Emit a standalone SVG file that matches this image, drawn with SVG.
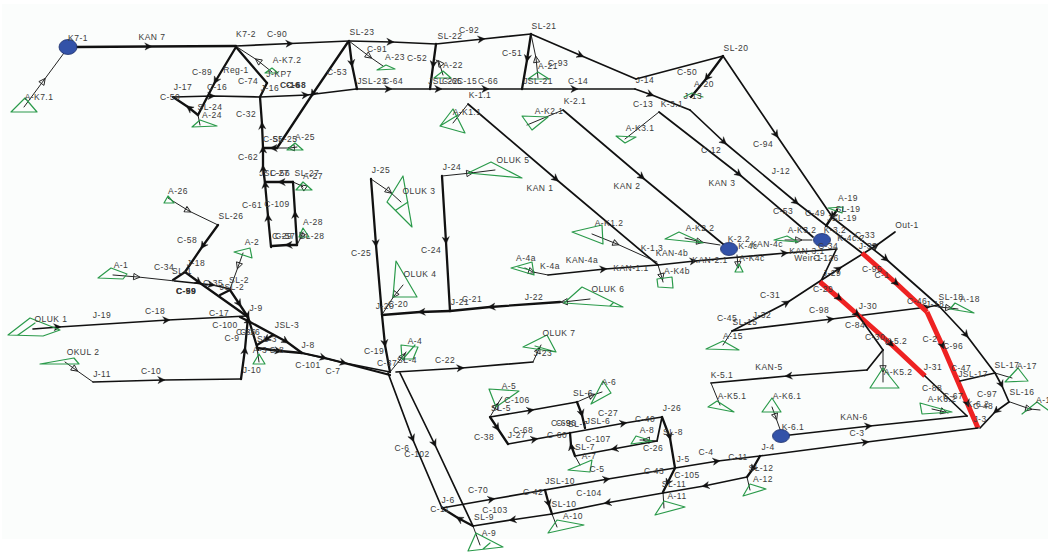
<svg xmlns="http://www.w3.org/2000/svg" width="1048" height="553" viewBox="0 0 1048 553">
<style>
text{font-family:"Liberation Sans",Arial,sans-serif;font-size:8.5px;letter-spacing:.45px;fill:#3a3a3a;text-anchor:middle;dominant-baseline:middle}
.b{font-weight:bold}
path{fill:none;stroke-linecap:round;stroke-linejoin:round}
.k{stroke:#111;stroke-width:2.300;marker-mid:url(#a)}
.n{stroke:#111;stroke-width:1.700;marker-mid:url(#a)}
.t{stroke:#222;stroke-width:1;marker-mid:url(#h)}
.r{stroke:#ee2222;stroke-width:5;stroke-linecap:butt;marker-mid:url(#a)}
.g{fill:none;stroke:#2a9a4a;stroke-width:1.200}
.o{fill:#3352a8;stroke:#1c2f6a;stroke-width:.8}
</style>
<defs>
<marker id="a" markerUnits="userSpaceOnUse" markerWidth="12" markerHeight="10" refX="6" refY="5" orient="auto" overflow="visible"><path d="M1 1.500L8 5L1 8.500L3 5Z" style="fill:#111;stroke:#111;stroke-width:.4"/></marker>
<marker id="h" markerUnits="userSpaceOnUse" markerWidth="12" markerHeight="10" refX="6" refY="5" orient="auto" overflow="visible"><path d="M2 2L8 5L2 8Z" style="fill:none;stroke:#222;stroke-width:.9"/></marker>
</defs>
<rect width="1048" height="553" fill="#fff"/>
<rect x="2" y="4" width="1046" height="535" fill="#fbfdfc"/>
<g id="connectors">
<path class="t" d="M24 107L44 80L64 53"/>
<path class="k" d="M76 47L150 46.500L236 46"/>
<path class="n" d="M236 46L291 43.500L349 41"/>
<path class="n" d="M349 41L392 42L436 44"/>
<path class="n" d="M436 44L483 39L531 34"/>
<path class="n" d="M531 34L582 56L636 79"/>
<path class="n" d="M636 79L723 56"/>
<path class="k" d="M723 56L706 79L691 97"/>
<path class="n" d="M723 56L777 136L833 218"/>
<path class="n" d="M833 218L887 260L938 305"/>
<path class="n" d="M938 305L967 336L995 373"/>
<path class="n" d="M995 373L1002 386L1009 402"/>
<path class="n" d="M1009 402L995 412L980 428"/>
<path class="k" d="M349 41L352 65L357 89"/>
<path class="k" d="M436 44L433 66L430 89"/>
<path class="k" d="M531 34L527 60L522 89"/>
<path class="t" d="M349 41L370 57L383 66"/>
<path class="t" d="M443 75L439 62L436 60"/>
<path class="t" d="M538 78L536 58L531 34"/>
<path class="n" d="M260 97L307 95L356 89"/>
<path class="n" d="M356 89L390 89L440 89L487 89L576 89L635 89"/>
<path class="n" d="M635 89L652 95L690 110"/>
<path class="n" d="M690 110L725 143L797 203L862 253"/>
<path class="n" d="M173 97L213 96L260 97"/>
<path class="n" d="M659 112L740 175L813 237"/>
<path class="t" d="M659 112L625 139"/>
<path class="k" d="M236 47L215 82L198 115"/>
<path class="k" d="M198 115L188 107L173 97"/>
<path class="t" d="M198 115L200 125"/>
<path class="k" d="M236 47L267 83"/>
<path class="k" d="M267 83L260 97"/>
<path class="t" d="M272 72L257 60L237 47"/>
<path class="k" d="M348 42L312 95L277 148"/>
<path class="k" d="M277 148L272 148L263 148"/>
<path class="t" d="M297 147L290 148L277 148"/>
<path class="k" d="M271 247L268 216L265 183L263 167L263 148L262 124L260 97"/>
<path class="k" d="M293 182L280 182L265 182"/>
<path class="t" d="M303 187L302 186L293 182"/>
<path class="k" d="M297 245L295 213L293 182"/>
<path class="k" d="M297 245L287 245L272 246"/>
<path class="t" d="M303 232L301 237L297 245"/>
<path class="t" d="M168 198L189 211L218 225"/>
<path class="k" d="M218 225L202 247L185 272"/>
<path class="k" d="M185 272L173 280"/>
<path class="t" d="M113 275L138 277L175 281"/>
<path class="n" d="M175 281L213 285L230 289"/>
<path class="k" d="M185 272L200 283L248 317"/>
<path class="k" d="M230 290L220 295"/>
<path class="k" d="M230 290L240 305L248 317L258 350"/>
<path class="k" d="M240 317L250 322L287 342L302 353"/>
<path class="t" d="M243 253L238 267L230 289"/>
<path class="n" d="M33 329L59 327L168 320L247 316"/>
<path class="t" d="M65 362L76 370L93 382"/>
<path class="n" d="M93 382L163 380L241 379"/>
<path class="k" d="M241 379L245 349L248 317"/>
<path class="k" d="M273 335L265 340L257 345"/>
<path class="t" d="M257 348L259 362"/>
<path class="k" d="M257 348L280 351L302 353"/>
<path class="k" d="M302 353L325 358L390 375"/>
<path class="n" d="M302 353L345 363L390 372"/>
<path class="k" d="M371 179L376 245L382 315"/>
<path class="k" d="M382 315L385 345L390 372"/>
<path class="t" d="M371 179L390 192L401 202"/>
<path class="t" d="M403 285L394 296L383 313"/>
<path class="k" d="M560 302L490 307L450 311"/>
<path class="k" d="M450 311L420 312L382 315"/>
<path class="t" d="M590 299L563 302L560 302"/>
<path class="k" d="M442 176L446 242L450 311"/>
<path class="t" d="M442 176L471 173L495 170"/>
<path class="n" d="M396 372L462 368L533 362"/>
<path class="t" d="M533 362L539 349L541 345"/>
<path class="t" d="M390 372L404 355L406 352"/>
<path class="n" d="M468 104L557 180L658 265"/>
<path class="t" d="M468 104L453 123"/>
<path class="n" d="M563 110L643 178L729 249"/>
<path class="t" d="M563 110L527 125"/>
<path class="t" d="M592 234L617 244L657 262"/>
<path class="n" d="M658 265L695 261L786 253L837 249"/>
<path class="n" d="M548 275L605 269L658 265"/>
<path class="t" d="M525 268L533 272L548 275"/>
<path class="t" d="M658 265L662 278L663 282"/>
<path class="t" d="M685 238L701 242L720 245"/>
<path class="t" d="M737 255L738 266L738 268"/>
<path class="t" d="M785 240L800 240L812 240"/>
<path class="k" d="M837 210L832 217L826 226"/>
<path class="n" d="M836 250L825 273"/>
<path class="n" d="M825 273L820 283"/>
<path class="n" d="M732 331L788 302L840 268L877 245L895 232"/>
<path class="t" d="M732 331L723 345"/>
<path class="n" d="M732 331L832 319L928 307L938 305"/>
<path class="t" d="M938 307L950 308L958 309"/>
<path class="r" d="M862 253L897 284L927 312"/>
<path class="r" d="M927 312L943 347L968 405L978 428"/>
<path class="r" d="M820 282L840 299L858 315L892 345L925 376"/>
<path class="n" d="M925 376L967 416"/>
<path class="n" d="M858 315L883 350"/>
<path class="n" d="M883 350L867 370"/>
<path class="n" d="M867 370L787 376L711 383"/>
<path class="t" d="M711 383L720 405"/>
<path class="t" d="M883 350L883 370L883 382"/>
<path class="n" d="M960 381L995 373"/>
<path class="t" d="M995 373L1012 378"/>
<path class="t" d="M1010 402L1030 409L1040 410"/>
<path class="n" d="M781 436L870 426L967 416"/>
<path class="t" d="M932 409L945 412L948 413"/>
<path class="t" d="M772 407L776 418L781 432"/>
<path class="n" d="M760 456L867 442L978 428"/>
<path class="n" d="M675 468L718 461L760 456"/>
<path class="k" d="M760 456L752 470L747 477"/>
<path class="n" d="M747 477L704 486L663 493"/>
<path class="t" d="M747 477L750 490"/>
<path class="k" d="M675 468L667 484L663 492"/>
<path class="t" d="M663 492L664 508"/>
<path class="n" d="M663 493L606 503L552 514"/>
<path class="k" d="M545 490L549 505L552 514"/>
<path class="t" d="M552 514L557 527"/>
<path class="n" d="M442 508L493 499L608 479L675 468"/>
<path class="n" d="M552 514L511 520L473 526"/>
<path class="k" d="M473 526L458 518L442 508"/>
<path class="t" d="M473 526L480 545"/>
<path class="n" d="M388 373L413 440L442 508"/>
<path class="n" d="M400 373L435 445L473 526"/>
<path class="n" d="M490 417L532 410L577 402"/>
<path class="t" d="M490 417L497 405L502 397"/>
<path class="t" d="M577 402L593 395L602 392"/>
<path class="k" d="M490 417L498 429L508 444"/>
<path class="n" d="M508 444L536 439L625 423L662 417"/>
<path class="k" d="M577 402L582 415L585 428"/>
<path class="k" d="M575 456L571 445L570 433"/>
<path class="n" d="M662 417L657 441"/>
<path class="n" d="M657 441L613 449L575 456"/>
<path class="t" d="M575 456L580 465"/>
<path class="t" d="M657 441L645 440L640 440"/>
<path class="k" d="M662 417L670 438L675 468"/>
</g>
<g id="nodes">
<g id="K7-1"><ellipse class="o" cx="68" cy="47" rx="9" ry="7.500"/><text x="78" y="39">K7-1</text></g>
<g id="K-2.2"><ellipse class="o" cx="729" cy="249" rx="8.500" ry="6.500"/><text x="739" y="240">K-2.2</text></g>
<g id="K-3.2"><ellipse class="o" cx="822" cy="240" rx="8.500" ry="6.500"/><text x="835" y="231">K-3.2</text></g>
<g id="K-6.1"><ellipse class="o" cx="781" cy="436" rx="8.500" ry="6.500"/><text x="793" y="428">K-6.1</text></g>
<g id="A-K7.1"><path class="g" d="M11 112L25 98L37 112Z"/><text x="39" y="98">A-K7.1</text></g>
<g id="A-K7.2"><path class="g" d="M265 73L272 68L278 73Z"/><text x="287" y="61">A-K7.2</text></g>
<g id="A-24"><path class="g" d="M192 127L200 120L217 126Z"/><text x="212" y="116">A-24</text></g>
<g id="A-25"><path class="g" d="M287 150L295 143L303 150Z"/><text x="305" y="138">A-25</text></g>
<g id="A-27"><path class="g" d="M296 190L303 182L312 190Z"/><text x="313" y="177">A-27</text></g>
<g id="A-28"><path class="g" d="M299 237L303 228L309 237Z"/><text x="313" y="223">A-28</text></g>
<g id="A-26"><path class="g" d="M164 203L168 196L174 203Z"/><text x="178" y="192">A-26</text></g>
<g id="A-23"><path class="g" d="M377 70L386 65L395 69Z"/><text x="395" y="58">A-23</text></g>
<g id="A-22"><path class="g" d="M434 78L443 71L451 78Z"/><text x="453" y="66">A-22</text></g>
<g id="A-21"><path class="g" d="M528 79L538 72L549 79Z"/><text x="548" y="67">A-21</text></g>
<g id="A-20"><path class="g" d="M684 97L692 93L703 97"/><text x="704" y="85">A-20</text></g>
<g id="A-19"><path class="g" d="M828 208L843 207L842 213Z"/><text x="848" y="199">A-19</text></g>
<g id="A-18"><path class="g" d="M950 309L955 303L974 313Z"/><text x="970" y="300">A-18</text></g>
<g id="A-17"><path class="g" d="M1005 382L1018 368L1028 381Z"/><text x="1027" y="367">A-17</text></g>
<g id="A-16"><path class="g" d="M1022 414L1037 402L1048 410"/><text x="1046" y="401">A-16</text></g>
<g id="A-15"><path class="g" d="M706 349L723 341L739 350Z"/><text x="733" y="337">A-15</text></g>
<g id="A-K1.1"><path class="g" d="M453 109L440 126L465 133ZM440 126L458 115"/><text x="467" y="113">A-K1.1</text></g>
<g id="A-K2.1"><path class="g" d="M522 116L532 130L548 117Z"/><text x="549" y="112">A-K2.1</text></g>
<g id="A-K3.1"><path class="g" d="M616 136L625 143L636 137Z"/><text x="640" y="129">A-K3.1</text></g>
<g id="OLUK5"><path class="g" d="M468 173L491 162L522 178Z"/><text x="513" y="161">OLUK 5</text></g>
<g id="OLUK3"><path class="g" d="M387 202L403 176L412 227ZM396 210L408 202"/><text x="419" y="192">OLUK 3</text></g>
<g id="OLUK4"><path class="g" d="M396 261L417 297L393 297Z"/><text x="420" y="275">OLUK 4</text></g>
<g id="OLUK6"><path class="g" d="M564 303L582 287L623 307ZM610 306L613 303"/><text x="608" y="290">OLUK 6</text></g>
<g id="OLUK7"><path class="g" d="M523 347L547 335L556 352ZM556 352L535 346"/><text x="559" y="334">OLUK 7</text></g>
<g id="A-4"><path class="g" d="M401 345L418 347L413 359L402 359ZM403 359L415 345"/><text x="415" y="342">A-4</text></g>
<g id="A-K1.2"><path class="g" d="M572 232L602 225L603 244Z"/><text x="609" y="224">A-K1.2</text></g>
<g id="A-4a"><path class="g" d="M511 268L532 262L534 275ZM518 267L530 270"/><text x="526" y="259">A-4a</text></g>
<g id="A-K4b"><path class="g" d="M657 279L672 277L673 288L658 287Z"/><text x="677" y="272">A-K4b</text></g>
<g id="A-K2.2"><path class="g" d="M665 239L679 232L703 243Z"/><text x="700" y="229">A-K2.2</text></g>
<g id="A-K4c"><path class="g" d="M735 272L739 264L743 272Z"/><text x="752" y="259">A-K4c</text></g>
<g id="A-K3.2"><path class="g" d="M774 240L787 236L798 242Z"/><text x="802" y="231">A-K3.2</text></g>
<g id="A-K5.1"><path class="g" d="M708 407L717 401L734 412Z"/><text x="732" y="397">A-K5.1</text></g>
<g id="A-K5.2"><path class="g" d="M870 388L883 368L899 388Z"/><text x="898" y="373">A-K5.2</text></g>
<g id="A-K6.1"><path class="g" d="M762 412L772 398L781 412Z"/><text x="787" y="397">A-K6.1</text></g>
<g id="A-K6.2"><path class="g" d="M920 403L922 414L952 412Z"/><text x="942" y="400">A-K6.2</text></g>
<g id="A-12"><path class="g" d="M743 496L750 484L766 489Z"/><text x="763" y="480">A-12</text></g>
<g id="A-11"><path class="g" d="M655 515L664 501L685 507Z"/><text x="677" y="497">A-11</text></g>
<g id="A-10"><path class="g" d="M548 533L557 520L584 525Z"/><text x="573" y="517">A-10</text></g>
<g id="A-9"><path class="g" d="M468 551L476 533L503 547ZM483 549L490 543"/><text x="489" y="534">A-9</text></g>
<g id="A-5"><path class="g" d="M489 389L519 391L496 407Z"/><text x="509" y="387">A-5</text></g>
<g id="A-6"><path class="g" d="M591 404L603 381L611 393Z"/><text x="609" y="383">A-6</text></g>
<g id="A-7"><path class="g" d="M568 470L592 460L590 472Z"/><text x="589" y="457">A-7</text></g>
<g id="A-8"><path class="g" d="M631 444L636 436L652 441Z"/><text x="647" y="431">A-8</text></g>
<g id="A-1"><path class="g" d="M98 278L111 268L127 274L123 279Z"/><text x="121" y="266">A-1</text></g>
<g id="A-2"><path class="g" d="M234 252L250 248L252 258Z"/><text x="252" y="243">A-2</text></g>
<g id="A-3"><path class="g" d="M253 364L259 354L265 364Z"/><text x="260" y="351">A-3</text></g>
<g id="OLUK1"><path class="g" d="M8 335L30 318L60 330L43 336ZM18 335L35 323"/><text x="51" y="320">OLUK 1</text></g>
<g id="OKUL2"><path class="g" d="M40 364L74 358L79 364Z"/><text x="83" y="353">OKUL 2</text></g>
</g>
<g id="labels">
<text x="152" y="38">KAN 7</text><text x="246" y="35">K7-2</text><text x="277" y="35">C-90</text><text x="362" y="33">SL-23</text><text x="450" y="37">SL-22</text><text x="469" y="31">C-92</text><text x="544" y="27">SL-21</text><text x="558" y="64">C-93</text><text x="645" y="81">J-14</text><text x="736" y="49">SL-20</text><text x="687" y="73">C-50</text><text x="693" y="97">J-13</text>
<text x="202" y="73">C-89</text><text x="236" y="71">Reg-1</text><text x="183" y="88">J-17</text><text x="217" y="88">C-16</text><text x="170" y="98">C-50</text><text x="210" y="108">SL-24</text><text x="279" y="75">J-KP7</text><text x="248" y="82">C-74</text><text x="270" y="89">J-16</text><text class="b" x="290" y="86">C-16</text><text class="b" x="296" y="86">C-68</text><text x="337" y="73">C-53</text><text x="246" y="115">C-32</text><text x="248" y="158">C-62</text><text x="252" y="206">C-61</text><text x="277" y="205">C-109</text><text x="273" y="140">C-55</text><text x="285" y="140">SL-25</text><text x="274" y="174">JSL-27</text><text x="280" y="174">C-56</text><text x="307" y="174">SL-27</text><text x="282" y="237">C-29</text><text x="285" y="237">C-57</text><text x="312" y="237">SL-28</text>
<text x="377" y="50">C-91</text><text x="417" y="59">C-52</text><text x="512" y="54">C-51</text><text x="372" y="82">JSL-23</text><text x="393" y="82">C-64</text><text x="443" y="82">JSL-22</text><text x="452" y="82">C-65</text><text x="467" y="82">C-15</text><text x="488" y="82">C-66</text><text x="538" y="82">JSL-21</text><text x="578" y="82">C-14</text>
<text x="480" y="96">K-1.1</text><text x="575" y="102">K-2.1</text><text x="643" y="105">C-13</text><text x="672" y="105">K-3.1</text><text x="763" y="145">C-94</text><text x="781" y="172">J-12</text><text x="711" y="151">C-12</text><text x="722" y="184">KAN 3</text><text x="540" y="189">KAN 1</text><text x="627" y="187">KAN 2</text>
<text x="381" y="171">J-25</text><text x="452" y="168">J-24</text><text x="361" y="254">C-25</text><text x="431" y="251">C-24</text><text x="385" y="307">J-20</text><text x="398" y="305">C-20</text><text x="460" y="303">J-21</text><text x="472" y="300">C-21</text><text x="534" y="298">J-22</text><text x="543" y="354">J-23</text><text x="374" y="352">C-19</text><text x="387" y="364">C-37</text><text x="407" y="361">SL-4</text><text x="445" y="361">C-22</text>
<text x="550" y="267">K-4a</text><text x="582" y="261">KAN-4a</text><text x="631" y="269">KAN-1.1</text><text x="652" y="249">K-1.3</text><text x="672" y="254">KAN-4b</text><text x="710" y="261">KAN-2.1</text><text x="748" y="247">K-4c</text><text x="767" y="245">KAN-4c</text><text x="807" y="252">KAN-3.1</text><text x="808" y="259">Weir-1</text><text x="826" y="259">C-126</text><text x="828" y="247">C-34</text>
<text x="783" y="212">C-53</text><text x="815" y="214">C-49</text><text x="848" y="210">SL-19</text><text x="842" y="219">JSL-19</text><text x="851" y="239">K-4c.2</text><text x="865" y="236">C-33</text><text x="907" y="226">Out-1</text><text x="868" y="247">J-33</text><text x="832" y="274">J-29</text><text x="823" y="290">C-29</text><text x="770" y="296">C-31</text><text x="762" y="316">J-32</text><text x="727" y="319">C-45</text><text x="745" y="323">SL-15</text><text x="819" y="311">C-98</text><text x="868" y="307">J-30</text><text x="951" y="298">SL-18</text><text x="917" y="302">C-46</text><text x="935" y="305">J-18</text><text x="872" y="270">C-95</text><text x="882" y="276">C-1</text><text x="855" y="326">C-84</text><text x="875" y="338">C-30</text><text x="896" y="342">K-5.2</text><text x="930" y="340">C-2</text><text x="953" y="347">C-96</text><text x="961" y="369">C-47</text><text x="973" y="375">JSL-17</text><text x="1007" y="366">SL-17</text><text x="933" y="368">J-31</text><text x="987" y="395">C-97</text><text x="1022" y="393">SL-16</text><text x="932" y="389">C-88</text><text x="953" y="397">C-67</text><text x="978" y="405">K-6.2</text><text x="983" y="407">C-48</text><text x="980" y="420">J-3</text><text x="769" y="368">KAN-5</text><text x="722" y="376">K-5.1</text><text x="854" y="418">KAN-6</text><text x="857" y="434">C-3</text><text x="768" y="448">J-4</text><text x="706" y="453">C-4</text><text x="738" y="458">C-11</text><text x="761" y="469">SL-12</text><text x="683" y="460">J-5</text><text x="687" y="476">C-105</text><text x="674" y="485">SL-11</text><text x="654" y="472">C-43</text><text x="589" y="494">C-104</text><text x="564" y="505">SL-10</text><text x="560" y="482">JSL-10</text><text x="533" y="493">C-42</text><text x="478" y="491">C-70</text><text x="495" y="511">C-103</text><text x="484" y="518">SL-9</text><text x="448" y="501">J-6</text><text x="440" y="510">C-11</text><text x="402" y="449">C-6</text><text x="417" y="455">C-102</text>
<text x="517" y="401">C-106</text><text x="501" y="409">SL-5</text><text x="583" y="394">SL-6</text><text x="484" y="438">C-38</text><text x="523" y="431">C-68</text><text x="517" y="436">J-27</text><text x="557" y="436">C-60</text><text x="561" y="424">C-69</text><text x="566" y="424">C-96</text><text x="578" y="425">SL-7</text><text x="598" y="422">JSL-6</text><text x="608" y="414">C-27</text><text x="645" y="420">C-40</text><text x="672" y="409">J-26</text><text x="673" y="433">SL-8</text><text x="598" y="440">C-107</text><text x="653" y="449">C-26</text><text x="585" y="448">SL-7</text><text x="597" y="470">C-5</text>
<text x="231" y="217">SL-26</text><text x="187" y="241">C-58</text><text x="196" y="264">J-18</text><text x="182" y="272">SL-1</text><text x="164" y="268">C-34</text><text x="213" y="284">C-35</text><text class="b" x="186" y="292">C-59</text><text class="b" x="186" y="292">C-99</text><text x="239" y="281">SL-2</text><text x="232" y="288">JSL-2</text><text x="256" y="309">J-9</text><text x="219" y="314">C-17</text><text x="225" y="326">C-100</text><text x="246" y="333">C-36</text><text x="250" y="333">C-16</text><text x="232" y="339">C-9</text><text x="287" y="326">JSL-3</text><text x="267" y="340">SL-3</text><text x="277" y="351">S-8</text><text x="308" y="346">J-8</text><text x="308" y="366">C-101</text><text x="333" y="372">C-7</text><text x="102" y="316">J-19</text><text x="155" y="312">C-18</text><text x="102" y="375">J-11</text><text x="151" y="372">C-10</text><text x="252" y="371">J-10</text>
</g>
</svg>
